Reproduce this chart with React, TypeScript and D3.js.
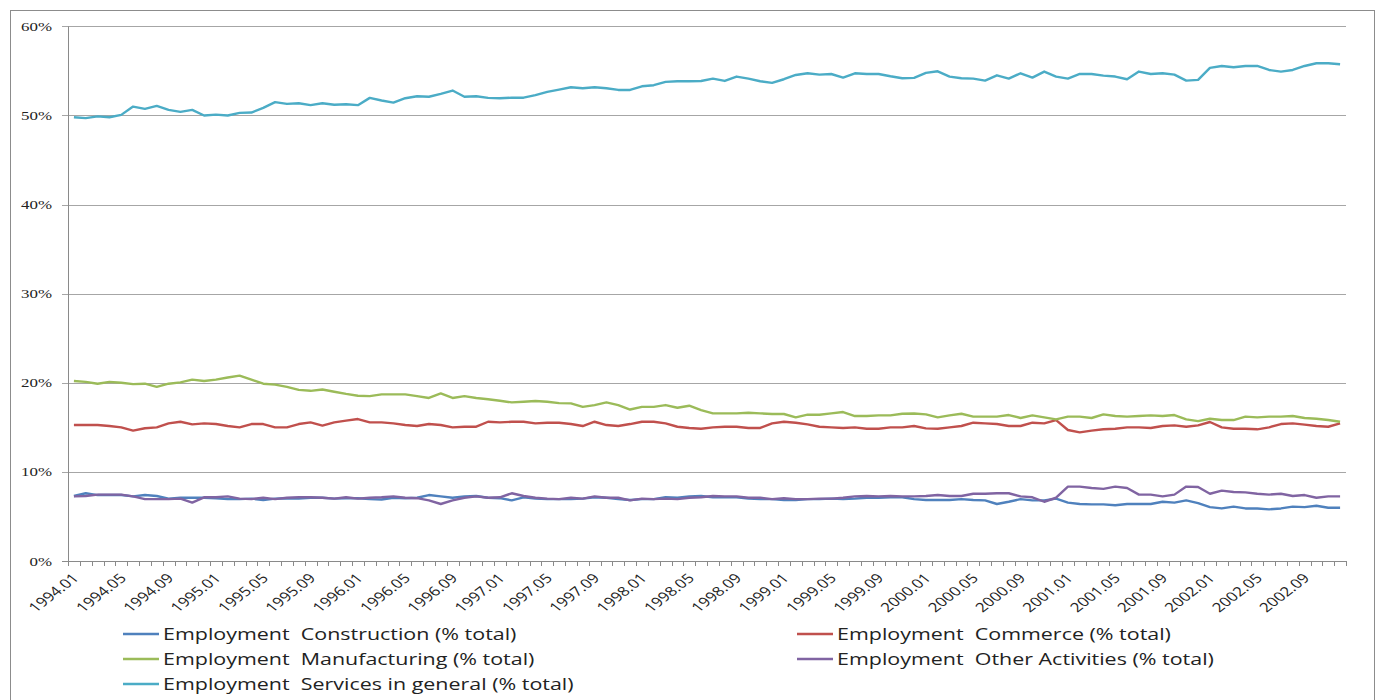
import React, { useEffect, useRef } from "react";
import * as d3 from "d3";

// monthly categories 1994.01 .. 2002.12
const years = [1994, 1995, 1996, 1997, 1998, 1999, 2000, 2001, 2002];
const monthNames = ["01", "02", "03", "04", "05", "06", "07", "08", "09", "10", "11", "12"];
const categories: string[] = years.flatMap(y => monthNames.map(m => `${y}.${m}`));

// values in % of total employment
const construction = [
  7.3, 7.6, 7.4, 7.4, 7.4, 7.25, 7.4, 7.3, 7.0, 7.1, 7.1, 7.1, 7.05, 6.95, 6.95, 7.0, 6.85, 7.0,
  7.05, 7.0, 7.1, 7.1, 7.0, 7.05, 7.05, 6.95, 6.9, 7.1, 7.05, 7.1, 7.4, 7.25, 7.1, 7.25, 7.3, 7.1,
  7.05, 6.8, 7.15, 7.0, 6.95, 6.95, 6.95, 7.0, 7.15, 7.1, 6.95, 6.85, 6.95, 6.95, 7.15, 7.1, 7.25, 7.3,
  7.15, 7.15, 7.15, 7.0, 6.95, 6.95, 6.85, 6.85, 6.95, 6.95, 7.0, 6.95, 7.0, 7.1, 7.1, 7.15, 7.15, 6.95,
  6.85, 6.85, 6.85, 6.95, 6.85, 6.8, 6.4, 6.65, 6.95, 6.8, 6.8, 7.0, 6.55, 6.4, 6.35, 6.35, 6.25, 6.4,
  6.4, 6.4, 6.65, 6.55, 6.8, 6.5, 6.05, 5.9, 6.1, 5.9, 5.9, 5.8, 5.9, 6.1, 6.05, 6.2, 5.97, 5.97
];
const commerce = [
  15.26, 15.26, 15.26, 15.15, 15.0, 14.63, 14.9, 15.0, 15.45, 15.63, 15.33, 15.45, 15.37, 15.15, 15.0, 15.37, 15.37, 15.0,
  15.0, 15.37, 15.56, 15.19, 15.56, 15.75, 15.93, 15.56, 15.56, 15.45, 15.26, 15.15, 15.37, 15.26, 15.0, 15.07, 15.07, 15.63,
  15.56, 15.63, 15.63, 15.45, 15.52, 15.52, 15.37, 15.15, 15.63, 15.26, 15.15, 15.37, 15.63, 15.63, 15.45, 15.07, 14.93, 14.85,
  15.0, 15.07, 15.07, 14.93, 14.93, 15.45, 15.63, 15.52, 15.33, 15.07, 15.0, 14.93, 15.0, 14.85, 14.85, 15.0, 15.0, 15.15,
  14.89, 14.85, 15.0, 15.15, 15.52, 15.45, 15.37, 15.15, 15.15, 15.52, 15.45, 15.82, 14.7, 14.44, 14.63, 14.78, 14.85, 15.0,
  15.0, 14.93, 15.15, 15.22, 15.07, 15.22, 15.6, 15.0, 14.85, 14.85, 14.78, 15.0, 15.37, 15.45, 15.3, 15.15, 15.07, 15.45
];
const manufacturing = [
  20.2, 20.1, 19.9, 20.1, 20.0, 19.85, 19.9, 19.55, 19.9, 20.05, 20.35, 20.2, 20.35, 20.6, 20.8, 20.35, 19.9, 19.8,
  19.55, 19.2, 19.1, 19.25, 19.0, 18.75, 18.55, 18.5, 18.7, 18.7, 18.7, 18.5, 18.3, 18.8, 18.3, 18.5, 18.3, 18.15,
  17.98, 17.8, 17.87, 17.95, 17.87, 17.72, 17.69, 17.3, 17.5, 17.8, 17.5, 17.0, 17.3, 17.3, 17.5, 17.2, 17.43, 16.94,
  16.57, 16.57, 16.57, 16.64, 16.57, 16.5, 16.5, 16.12, 16.42, 16.42, 16.57, 16.72, 16.27, 16.27, 16.34, 16.34, 16.53, 16.55,
  16.46, 16.12, 16.34, 16.53, 16.2, 16.2, 16.2, 16.38, 16.05, 16.34, 16.12, 15.9, 16.2, 16.2, 16.05, 16.46, 16.27, 16.2,
  16.27, 16.34, 16.27, 16.38, 15.9, 15.7, 15.97, 15.82, 15.82, 16.2, 16.12, 16.2, 16.2, 16.27, 16.05, 15.97, 15.82, 15.63
];
const otherActivities = [
  7.25, 7.3, 7.45, 7.45, 7.45, 7.25, 6.95, 6.95, 6.95, 7.0, 6.55, 7.15, 7.15, 7.25, 7.0, 6.95, 7.1, 6.95,
  7.1, 7.15, 7.15, 7.1, 7.0, 7.15, 7.0, 7.1, 7.15, 7.25, 7.1, 7.05, 6.8, 6.4, 6.8, 7.1, 7.25, 7.1,
  7.15, 7.6, 7.3, 7.1, 7.0, 6.95, 7.1, 7.0, 7.25, 7.1, 7.1, 6.8, 7.0, 6.95, 7.0, 6.95, 7.1, 7.15,
  7.3, 7.25, 7.25, 7.1, 7.1, 6.95, 7.05, 6.95, 6.95, 7.0, 7.0, 7.1, 7.25, 7.3, 7.25, 7.3, 7.25, 7.25,
  7.3, 7.4, 7.3, 7.3, 7.55, 7.55, 7.6, 7.6, 7.25, 7.15, 6.65, 7.1, 8.35, 8.35, 8.2, 8.1, 8.35, 8.2,
  7.45, 7.45, 7.25, 7.45, 8.35, 8.3, 7.55, 7.9, 7.75, 7.7, 7.55, 7.45, 7.55, 7.3, 7.4, 7.1, 7.25, 7.25
];
const services = [
  49.8, 49.7, 49.9, 49.8, 50.07, 51.0, 50.75, 51.08, 50.63, 50.41, 50.63, 50.0, 50.1, 50.0, 50.3, 50.33, 50.86, 51.5,
  51.3, 51.38, 51.16, 51.38, 51.2, 51.27, 51.16, 51.98, 51.68, 51.45, 51.94, 52.16, 52.1, 52.43, 52.8, 52.1, 52.16, 51.98,
  51.94, 52.0, 52.0, 52.28, 52.65, 52.9, 53.17, 53.06, 53.17, 53.06, 52.87, 52.87, 53.28, 53.4, 53.77, 53.84, 53.84, 53.87,
  54.14, 53.88, 54.37, 54.14, 53.84, 53.66, 54.07, 54.55, 54.74, 54.59, 54.66, 54.25, 54.74, 54.66, 54.66, 54.4, 54.18, 54.22,
  54.78, 54.96, 54.37, 54.18, 54.14, 53.92, 54.51, 54.14, 54.74, 54.25, 54.93, 54.37, 54.14, 54.66, 54.66, 54.48, 54.37, 54.07,
  54.93, 54.66, 54.74, 54.59, 53.92, 54.0, 55.34, 55.56, 55.41, 55.56, 55.56, 55.11, 54.93, 55.11, 55.56, 55.86, 55.86, 55.75
];

const yTicks = [0, 10, 20, 30, 40, 50, 60];
const tickLabels = categories.filter((_, i) => i % 4 === 0);

const seriesList = [
  { name: "Employment  Construction (% total)", values: construction, color: "#4f81bd" },
  { name: "Employment  Commerce (% total)", values: commerce, color: "#c0504d" },
  { name: "Employment  Manufacturing (% total)", values: manufacturing, color: "#9bbb59" },
  { name: "Employment  Other Activities (% total)", values: otherActivities, color: "#8064a2" },
  { name: "Employment  Services in general (% total)", values: services, color: "#4bacc6" }
];

const W = 1380;
const H = 700;
const SX = 1.3; // the picture is stretched sideways

const App = () => {
  const svgRef = useRef<SVGSVGElement>(null);

  useEffect(() => {
    const svg = d3.select(svgRef.current);
    svg.selectAll("*").remove();

    const x = d3.scaleBand().domain(categories).range([68, 1346]);
    const bw = x.bandwidth();
    const cx = (c: string) => (x(c) as number) + bw / 2;
    const y = d3.scaleLinear().domain([0, 60]).range([561, 26.4]);

    // outer border
    svg.append("rect")
      .attr("x", 10.5).attr("y", 10.5)
      .attr("width", 1364).attr("height", 720)
      .attr("fill", "white").attr("stroke", "#8c8c8c");

    // gridlines + y ticks
    svg.append("g")
      .selectAll("line")
      .data(yTicks)
      .join("line")
      .attr("x1", 62).attr("x2", 1346)
      .attr("y1", d => Math.round(y(d)) + 0.5).attr("y2", d => Math.round(y(d)) + 0.5)
      .attr("stroke", d => (d === 0 ? "#8a8a8a" : "#a6a6a6"))
      .attr("stroke-width", 1);

    // y axis line
    svg.append("line")
      .attr("x1", 68.5).attr("x2", 68.5)
      .attr("y1", y(60)).attr("y2", y(0))
      .attr("stroke", "#8a8a8a");

    svg.append("g")
      .selectAll("text")
      .data(yTicks)
      .join("text")
      .attr("transform", d => `translate(52,${y(d) + 4.5}) scale(${SX},1)`)
      .attr("text-anchor", "end")
      .attr("font-family", "'Liberation Serif', 'Times New Roman', serif")
      .attr("font-size", 13)
      .attr("fill", "#222")
      .text(d => `${d}%`);

    // x tick marks at category boundaries
    const bounds = d3.range(categories.length + 1).map(i => 68 + i * bw);
    svg.append("g")
      .selectAll("line")
      .data(bounds)
      .join("line")
      .attr("x1", d => Math.round(d) + 0.5).attr("x2", d => Math.round(d) + 0.5)
      .attr("y1", 561).attr("y2", 566)
      .attr("stroke", "#8a8a8a");

    // x labels, rotated
    svg.append("g")
      .selectAll("text")
      .data(tickLabels)
      .join("text")
      .attr("transform", d => `translate(${cx(d) + 6},579) scale(${SX},1) rotate(-45)`)
      .attr("text-anchor", "end")
      .attr("font-family", "'Open Sans', sans-serif")
      .attr("font-size", 13)
      .attr("fill", "#222")
      .text(d => d);

    // lines
    const lineGen = d3.line<number>()
      .x((_, i) => cx(categories[i]))
      .y(v => y(v));

    svg.append("g")
      .selectAll("path")
      .data(seriesList)
      .join("path")
      .attr("d", s => lineGen(s.values))
      .attr("fill", "none")
      .attr("stroke", s => s.color)
      .attr("stroke-width", 2.4)
      .attr("stroke-linejoin", "round");

    // legend
    const legendPos = [
      { x: 123, y: 634 },
      { x: 797, y: 634 },
      { x: 123, y: 659 },
      { x: 797, y: 659 },
      { x: 123, y: 684 }
    ];
    const leg = svg.append("g")
      .selectAll("g")
      .data(seriesList)
      .join("g")
      .attr("transform", (_, i) => `translate(${legendPos[i].x},${legendPos[i].y})`);
    leg.append("line")
      .attr("x1", 0).attr("x2", 36)
      .attr("stroke", s => s.color)
      .attr("stroke-width", 2.4);
    leg.append("text")
      .attr("transform", `translate(40,6) scale(${SX},1)`)
      .attr("font-family", "'Open Sans', sans-serif")
      .attr("font-size", 16.5)
      .attr("fill", "#222")
      .style("white-space", "pre")
      .text(s => s.name);
  }, []);

  return (
    <svg
      ref={svgRef}
      width={W}
      height={H}
      style={{ position: "absolute", left: 0, top: 0, display: "block", background: "white" }}
    />
  );
};

export default App;
